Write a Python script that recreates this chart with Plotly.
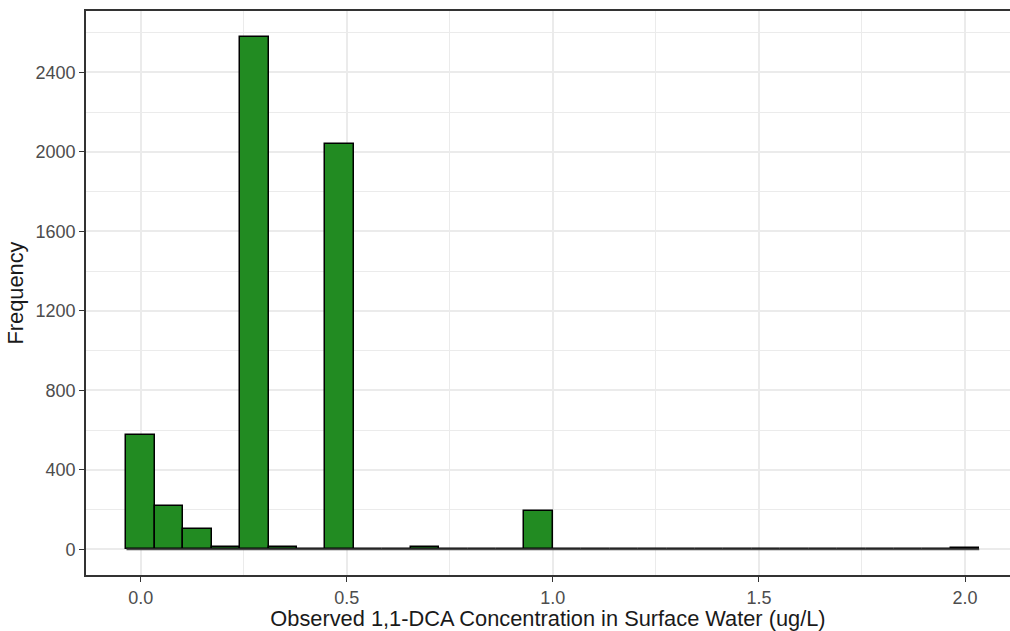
import plotly.graph_objects as go

# Histogram data (30 bins, ggplot-style)
x_min = 0.0
x_max = 2.0
n_bins = 30
counts = [575, 218, 101, 12, 2580, 10, 0, 2042, 4, 0,
          10, 0, 0, 0, 191, 0, 0, 0, 0, 0,
          0, 0, 0, 0, 0, 0, 0, 0, 0, 5]

x_title = "Observed 1,1-DCA Concentration in Surface Water (ug/L)"
y_title = "Frequency"
x_ticks = [0.0, 0.5, 1.0, 1.5, 2.0]
y_ticks = [0, 400, 800, 1200, 1600, 2000, 2400]

bin_w = (x_max - x_min) / (n_bins - 1)
centers = [x_min + i * bin_w for i in range(n_bins)]
edge_lo = centers[0] - bin_w / 2
edge_hi = centers[-1] + bin_w / 2

FONT = "Liberation Sans, Arial, sans-serif"
GRID = "#EBEBEB"

fig = go.Figure()

# baseline of empty bins (outline of zero-height bars)
fig.add_trace(go.Scatter(
    x=[edge_lo, edge_hi], y=[0, 0], mode="lines",
    line=dict(color="#4a4a4a", width=1.6),
    hoverinfo="skip", showlegend=False,
))

fig.add_trace(go.Bar(
    x=centers, y=counts, width=bin_w,
    marker=dict(color="#228B22", line=dict(color="black", width=1.5)),
    showlegend=False,
))

fig.update_layout(
    width=1010, height=631,
    margin=dict(l=86, r=0, t=11, b=56, autoexpand=False),
    paper_bgcolor="white", plot_bgcolor="white",
    font=dict(family=FONT, color="black"),
    bargap=0,
)

fig.update_xaxes(
    automargin=False,
    range=[(86 - 140.7) / 412.15, (1010 - 140.7) / 412.15],
    tickvals=x_ticks, ticktext=[f"{v:.1f}" for v in x_ticks],
    tickfont=dict(size=18, color="#4D4D4D", family=FONT),
    ticks="outside", ticklen=5, tickcolor="#333333", tickwidth=1.2,
    showline=True, linecolor="#333333", linewidth=1.8, mirror=True,
    showgrid=True, gridcolor=GRID, gridwidth=1.6,
    minor=dict(tickvals=[0.25, 0.75, 1.25, 1.75], showgrid=True, gridcolor=GRID, gridwidth=0.9, ticks=""),
    zeroline=False,
    title=dict(text=x_title, font=dict(size=21.8, color="#1a1a1a", family=FONT), standoff=2),
)

fig.update_yaxes(
    automargin=False,
    range=[-129, 2709],
    tickvals=y_ticks, ticktext=[str(v) for v in y_ticks],
    tickfont=dict(size=18, color="#4D4D4D", family=FONT),
    ticks="outside", ticklen=5, tickcolor="#333333", tickwidth=1.2,
    showline=True, linecolor="#333333", linewidth=1.8, mirror=False,
    showgrid=True, gridcolor=GRID, gridwidth=1.6,
    minor=dict(tickvals=[200, 600, 1000, 1400, 1800, 2200, 2600], showgrid=True, gridcolor=GRID, gridwidth=0.9, ticks=""),
    zeroline=False,
    title=dict(text=y_title, font=dict(size=21.8, color="#1a1a1a", family=FONT), standoff=6),
)

fig.write_html(
    "out.html",
    config={"displayModeBar": False},
    post_script="document.body.style.margin='0';document.body.style.overflow='hidden';",
)
